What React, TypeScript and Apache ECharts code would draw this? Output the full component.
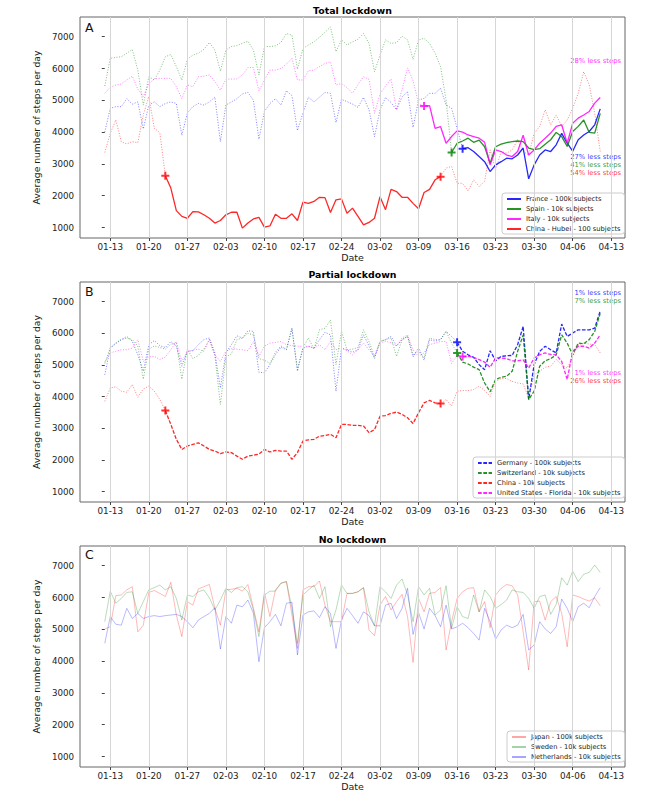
import React, { useEffect, useRef } from "react";
import * as echarts from "echarts";

// ---- axis ticks ----
const tickLabels = ["01-13", "01-20", "01-27", "02-03", "02-10", "02-17", "02-24", "03-02", "03-09", "03-16", "03-23", "03-30", "04-06", "04-13"];
const tickIdx = tickLabels.map((_, i) => 1 + 7 * i); // day index (0 = 01-12)
const yTicks = [1000, 2000, 3000, 4000, 5000, 6000, 7000];

// ---- Panel A: Total lockdown (daily, 01-12 .. 04-11) ----
const franceA = [4000, 4750, 4800, 4800, 5050, 4880, 4950, 4100, 4850, 4950, 4800, 4900, 4950, 4900, 3900, 4600, 4800, 4900, 4850, 4950, 5100, 3700, 4850, 4950, 5050, 5200, 5250, 5000, 3780, 4650, 4900, 5050, 4850, 5300, 5150, 4050, 4600, 5100, 4950, 5100, 5250, 5220, 4300, 5030, 4960, 4880, 4780, 5090, 4700, 3860, 4700, 5090, 4930, 4700, 5110, 5270, 4150, 5010, 5060, 5220, 5220, 5380, 4850, 4750, 4120, 3480, 3510, 3390, 3230, 3070, 2760, 2970, 3070, 3180, 3160, 3280, 3500, 2530, 2970, 3280, 3440, 3390, 3600, 3960, 3650, 3400, 3760, 3910, 4020, 4230, 4730];
const spainA = [5450, 6320, 6350, 6370, 6480, 6600, 5950, 4850, 5740, 5640, 5950, 6370, 6440, 6060, 5640, 6290, 6420, 6480, 6600, 6820, 6580, 5920, 6580, 6690, 6720, 6790, 6860, 6580, 5800, 6690, 6690, 6710, 6820, 7100, 7050, 5980, 6630, 6740, 6840, 6980, 7140, 7310, 6530, 6900, 6740, 6840, 6920, 7100, 6790, 5900, 6420, 6900, 6790, 6810, 7020, 6900, 6290, 6900, 6950, 6790, 6480, 6060, 5000, 3360, 3650, 3720, 3810, 3680, 3750, 3540, 3020, 3540, 3620, 3670, 3700, 3720, 3700, 3500, 3450, 3480, 3620, 3760, 3990, 3860, 3550, 4020, 4180, 4380, 3990, 3970, 4590];
const italyA = [5220, 5410, 5480, 5510, 5640, 5760, 5350, 5120, 5530, 5670, 5690, 5690, 5690, 5430, 5060, 5480, 5430, 5740, 5760, 5800, 5590, 5320, 5660, 5670, 5670, 5800, 6030, 6030, 5300, 5640, 5950, 5950, 6000, 6140, 6320, 5640, 5640, 5930, 5950, 6060, 6160, 6210, 5480, 5530, 5400, 5220, 5500, 5740, 5660, 4590, 5200, 5450, 5670, 4700, 5340, 6020, 5620, 4900, 4820, 4830, 4120, 4170, 3650, 3860, 4040, 4000, 3910, 3860, 3810, 3680, 2970, 3440, 3390, 3280, 3230, 3390, 3900, 3280, 3440, 3650, 3810, 3970, 4180, 4230, 3650, 4280, 4440, 4540, 4650, 4910, 5090];
const hubeiA = [3360, 3960, 4380, 3700, 3630, 3700, 3670, 4540, 5120, 4120, 3980, 2630, 2240, 1530, 1350, 1290, 1500, 1490, 1400, 1290, 1140, 1220, 1400, 1480, 1480, 980, 1140, 1270, 1320, 1010, 1050, 1420, 1290, 1290, 1430, 1220, 1800, 1760, 1820, 1950, 1940, 1470, 1870, 1900, 1450, 1610, 1350, 1080, 1160, 1290, 1970, 1560, 2200, 2130, 1950, 1950, 1760, 1590, 2100, 2200, 2500, 2600, 2870, 2920, 2390, 2390, 2150, 2500, 2290, 2450, 3440, 2810, 3390, 3340, 3440, 3760, 3390, 3280, 3970, 4180, 4700, 4230, 4540, 4180, 4380, 4750, 5220, 5900, 5490, 4590, 3390];

// ---- Panel B: Partial lockdown ----
const germanyB = [4690, 5530, 5670, 5800, 5900, 5750, 5320, 4800, 5640, 5770, 5610, 5550, 5740, 5590, 4960, 5430, 5450, 5640, 5800, 5850, 5380, 4270, 5380, 5640, 5920, 5850, 6080, 6060, 4770, 4750, 5010, 5320, 5560, 5480, 6160, 4850, 5530, 5590, 5530, 5800, 6030, 5950, 4170, 5530, 5480, 5400, 5480, 5950, 5600, 5200, 5740, 5800, 5900, 5600, 5800, 5900, 5250, 5550, 5150, 5800, 5750, 5800, 6060, 5900, 5720, 5430, 5320, 5240, 5010, 4850, 5450, 5130, 5270, 5290, 5300, 5640, 6220, 3910, 5010, 5430, 5590, 5480, 5380, 6290, 5900, 6010, 6110, 6110, 6110, 6160, 6710];
const switzerlandB = [5050, 5550, 5700, 5800, 5850, 5800, 5600, 4550, 5500, 5600, 5550, 5500, 5650, 5700, 4550, 5500, 5200, 5300, 5500, 5800, 5300, 3750, 5250, 5350, 5800, 5850, 6000, 5950, 5200, 5150, 5050, 5400, 5600, 5500, 6150, 4800, 5550, 5850, 5500, 6110, 6160, 6420, 5010, 6060, 5480, 5500, 5550, 6110, 5740, 5270, 5740, 5800, 5850, 5270, 5800, 5900, 5320, 5430, 5220, 5850, 5800, 5800, 6060, 5690, 5380, 5090, 5030, 4930, 4850, 4430, 4150, 4540, 4610, 4640, 4800, 5430, 5950, 3910, 4170, 4960, 5130, 5200, 5320, 5950, 5690, 5320, 5690, 5670, 5800, 6060, 6630];
const floridaB = [5090, 5380, 5430, 5480, 5480, 5530, 5800, 5110, 5250, 5270, 5170, 5250, 5480, 5740, 5110, 5430, 5460, 5500, 5430, 5800, 5320, 5110, 5430, 5510, 5500, 5480, 5450, 5740, 5270, 5590, 5690, 5710, 5740, 5640, 5610, 5590, 5590, 5590, 5530, 5640, 5480, 5740, 5480, 5530, 5450, 5320, 5480, 5690, 5480, 5270, 5690, 5750, 5700, 5600, 5850, 5950, 5480, 5270, 5380, 5640, 5690, 5740, 5740, 5050, 5300, 5270, 5270, 5240, 5170, 5090, 4930, 5220, 5220, 5200, 5130, 5130, 5160, 4900, 5220, 5320, 5380, 5330, 5320, 5110, 4540, 5430, 5590, 5590, 5530, 5690, 5950];
const chinaB = [3850, 4270, 4310, 4170, 4140, 4380, 3980, 4240, 4330, 4170, 3910, 3560, 3120, 2650, 2330, 2440, 2490, 2540, 2440, 2330, 2280, 2200, 2250, 2230, 2120, 2020, 2120, 2150, 2180, 2330, 2250, 2300, 2280, 2280, 2020, 2230, 2600, 2630, 2650, 2750, 2770, 2810, 2700, 3120, 3120, 3090, 3090, 3070, 2860, 2960, 3380, 3400, 3470, 3510, 3440, 3330, 3150, 3490, 3800, 3880, 3800, 3780, 3910, 3700, 4170, 4190, 4190, 4220, 4330, 4190, 4010, 4480, 4570, 4570, 4480, 4430, 4400, 3960, 4690, 4800, 4930, 4960, 5170, 5010, 4900, 5270, 5640, 5690, 5660, 5640, 5380];

// ---- Panel C: No lockdown ----
const japanC = [5010, 5080, 6060, 6080, 6240, 6340, 4920, 5130, 6160, 6220, 6130, 6030, 6480, 5450, 4770, 5870, 5760, 6270, 6340, 6410, 5660, 5130, 6240, 6260, 6290, 6200, 6410, 5660, 4920, 6160, 5400, 6240, 6450, 6500, 5450, 4400, 6240, 6340, 6340, 6520, 5760, 5240, 5240, 5240, 6130, 6130, 6180, 6310, 4980, 4800, 5760, 6030, 5610, 5870, 6100, 5400, 3960, 5970, 5550, 6130, 6160, 6310, 4350, 5240, 5970, 6180, 6290, 6310, 5550, 5870, 5050, 6080, 6290, 6410, 6370, 6080, 4920, 3720, 5870, 5890, 5290, 5870, 6030, 5500, 4450, 6080, 6030, 5950, 5890, 5990, 5740];
const swedenC = [5240, 6200, 5820, 5970, 6160, 6180, 5500, 5870, 6240, 6310, 6390, 6240, 6340, 5970, 5290, 6080, 6030, 6180, 6240, 5990, 5610, 5920, 6290, 6160, 6310, 6340, 6180, 5610, 4770, 6080, 6200, 6200, 6450, 6500, 5660, 4560, 6080, 6240, 6390, 5970, 6340, 5080, 5610, 6390, 6130, 6130, 6180, 6310, 5550, 5110, 6340, 6180, 5970, 6390, 6580, 6080, 5240, 6340, 6080, 6290, 5450, 5610, 6370, 5030, 5710, 5400, 5340, 6080, 5550, 6240, 6030, 5660, 5780, 5920, 6240, 6180, 6160, 5970, 5660, 6030, 6080, 5470, 5780, 6620, 6390, 6830, 6500, 6730, 6790, 7020, 6790];
const netherlandsC = [4560, 5400, 5160, 5130, 5660, 5340, 5500, 5340, 5400, 5430, 5400, 5430, 5450, 5470, 5400, 5240, 5050, 5290, 5400, 5500, 5680, 4380, 5400, 5190, 5760, 5710, 5920, 5500, 3980, 5050, 5240, 5470, 5110, 5820, 5850, 4190, 5450, 5550, 5580, 5370, 5710, 5500, 4400, 5290, 5660, 5430, 5190, 5550, 5430, 5110, 5110, 5760, 5820, 5340, 5660, 6290, 4840, 5530, 5010, 5660, 5430, 5080, 5760, 5010, 5080, 5190, 5050, 4870, 4660, 5660, 5240, 4690, 4980, 5130, 5050, 5130, 5470, 4350, 4510, 5240, 5010, 4870, 5080, 5950, 5660, 5240, 5710, 5820, 5680, 6030, 6310];

const LAST = 90;
const FONT = '"DejaVu Sans", Verdana, sans-serif';
const COL = { blue: "#0000ff", green: "#008000", magenta: "#ff00ff", red: "#ff0000" };
const DOT = [1, 1.65];
const DASH = [3.7, 1.6];
const PLUS = "path://M3,0H5V3H8V5H5V8H3V5H0V3H3Z";

function pts(arr: number[], from: number, to: number) {
  const out: number[][] = [];
  for (let i = from; i <= to; i++) out.push([i, arr[i]]);
  return out;
}

function line(g: number, name: string, arr: number[], from: number, to: number, color: string, kind: string) {
  const width = kind === "dot" ? 1 : kind === "faint" ? 0.8 : 1.3;
  const type = kind === "dot" ? DOT : kind === "dash" ? DASH : "solid";
  const opacity = kind === "dot" ? 0.5 : kind === "faint" ? 0.35 : 0.85;
  return {
    type: "line",
    name,
    xAxisIndex: g,
    yAxisIndex: g,
    data: pts(arr, from, to),
    symbol: "none",
    showSymbol: false,
    silent: true,
    z: kind === "dot" ? 2 : 3,
    lineStyle: { color, width, type, opacity },
    itemStyle: { color },
    emphasis: { disabled: true },
  };
}

function plus(g: number, marks: { arr: number[]; i: number; color: string }[]) {
  return {
    type: "scatter",
    xAxisIndex: g,
    yAxisIndex: g,
    symbol: PLUS,
    symbolSize: 8,
    silent: true,
    z: 6,
    data: marks.map((m) => ({ value: [m.i, m.arr[m.i]], itemStyle: { color: m.color } })),
  };
}

function gridLines(g: number) {
  return {
    type: "line",
    xAxisIndex: g,
    yAxisIndex: g,
    data: [],
    silent: true,
    z: 1,
    markLine: {
      silent: true,
      symbol: ["none", "none"],
      label: { show: false },
      emphasis: { disabled: true },
      lineStyle: { color: "#d6d6d6", width: 1, type: "solid" },
      data: tickIdx.map((v) => ({ xAxis: v })),
    },
  };
}

const namesA = ["France - 100k subjects", "Spain - 10k subjects", "Italy - 10k subjects", "China - Hubei - 100 subjects"];
const namesB = ["Germany - 100k subjects", "Switzerland - 10k subjects", "China - 10k subjects", "United States - Florida - 10k subjects"];
const namesC = ["Japan - 100k subjects", "Sweden - 10k subjects", "Netherlands - 10k subjects"];

const gridTops = [17, 282, 546];
const gridHeights = [221, 220, 221];

export default function App() {
  const ref = useRef<HTMLDivElement>(null);

  useEffect(() => {
    if (!ref.current) return;
    const chart = echarts.init(ref.current, null, { renderer: "svg" });

    const xAxis = [0, 1, 2].map((g) => ({
      type: "value",
      gridIndex: g,
      min: -4.5,
      max: 94.5,
      axisLine: { show: false },
      splitLine: { show: false },
      axisTick: { show: true, length: 3, customValues: tickIdx, lineStyle: { color: "#444" } },
      axisLabel: {
        customValues: tickIdx,
        formatter: (v: number) => tickLabels[Math.round((v - 1) / 7)] ?? "",
        fontSize: 8.8,
        color: "#222",
        fontFamily: FONT,
        margin: 4,
      },
      name: "Date",
      nameLocation: "middle",
      nameGap: 14.5,
      nameTextStyle: { fontSize: 9.5, color: "#222", fontFamily: FONT },
    }));

    const yAxis = [0, 1, 2].map((g) => ({
      type: "value",
      gridIndex: g,
      min: 670,
      max: 7620,
      axisLine: { show: false },
      splitLine: { show: false },
      axisTick: { show: true, length: 3, customValues: yTicks, lineStyle: { color: "#444" } },
      axisLabel: {
        customValues: yTicks,
        formatter: (v: number) => String(v),
        fontSize: 8.7,
        color: "#222",
        fontFamily: FONT,
        margin: 6,
      },
      name: "Average number of steps per day",
      nameLocation: "middle",
      nameGap: 27,
      nameRotate: 90,
      nameTextStyle: { fontSize: 9.2, color: "#222", fontFamily: FONT },
    }));

    const grid = [0, 1, 2].map((g) => ({
      left: 80,
      top: gridTops[g],
      width: 545,
      height: gridHeights[g],
      show: true,
      borderColor: "#666",
      borderWidth: 1,
      backgroundColor: "transparent",
    }));

    const series: any[] = [
      gridLines(0),
      gridLines(1),
      gridLines(2),
      // Panel A
      line(0, "France pre", franceA, 0, 65, COL.blue, "dot"),
      line(0, "Spain pre", spainA, 0, 63, COL.green, "dot"),
      line(0, "Italy pre", italyA, 0, 58, COL.magenta, "dot"),
      line(0, "Hubei pre", hubeiA, 0, 11, COL.red, "dot"),
      line(0, "Hubei post", hubeiA, 61, LAST, COL.red, "dot"),
      line(0, namesA[0], franceA, 65, LAST, COL.blue, "solid"),
      line(0, namesA[1], spainA, 63, LAST, COL.green, "solid"),
      line(0, namesA[2], italyA, 58, LAST, COL.magenta, "solid"),
      line(0, namesA[3], hubeiA, 11, 61, COL.red, "solid"),
      plus(0, [
        { arr: hubeiA, i: 11, color: COL.red },
        { arr: italyA, i: 58, color: COL.magenta },
        { arr: hubeiA, i: 61, color: COL.red },
        { arr: spainA, i: 63, color: COL.green },
        { arr: franceA, i: 65, color: COL.blue },
      ]),
      // Panel B
      line(1, "Germany pre", germanyB, 0, 64, COL.blue, "dot"),
      line(1, "Switzerland pre", switzerlandB, 0, 64, COL.green, "dot"),
      line(1, "Florida pre", floridaB, 0, 65, COL.magenta, "dot"),
      line(1, "China pre", chinaB, 0, 11, COL.red, "dot"),
      line(1, "China post", chinaB, 61, LAST, COL.red, "dot"),
      line(1, namesB[0], germanyB, 64, LAST, COL.blue, "dash"),
      line(1, namesB[1], switzerlandB, 64, LAST, COL.green, "dash"),
      line(1, namesB[2], chinaB, 11, 61, COL.red, "dash"),
      line(1, namesB[3], floridaB, 65, LAST, COL.magenta, "dash"),
      plus(1, [
        { arr: chinaB, i: 11, color: COL.red },
        { arr: chinaB, i: 61, color: COL.red },
        { arr: germanyB, i: 64, color: COL.blue },
        { arr: switzerlandB, i: 64, color: COL.green },
        { arr: floridaB, i: 65, color: COL.magenta },
      ]),
      // Panel C
      line(2, namesC[0], japanC, 0, LAST, COL.red, "faint"),
      line(2, namesC[1], swedenC, 0, LAST, COL.green, "faint"),
      line(2, namesC[2], netherlandsC, 0, LAST, COL.blue, "faint"),
    ];

    const legendCommon = {
      orient: "vertical",
      itemWidth: 14,
      itemHeight: 8,
      itemGap: 2,
      padding: [2, 4, 1, 4],
      selectedMode: false,
      backgroundColor: "rgba(255,255,255,0.8)",
      borderColor: "#cccccc",
      borderWidth: 1,
      borderRadius: 3,
      itemStyle: { opacity: 0, borderWidth: 0 },
      textStyle: { fontSize: 6.7, color: "#222", fontFamily: FONT, lineHeight: 8 },
    };

    const legend = [
      { ...legendCommon, data: namesA, left: 502, top: 193 },
      { ...legendCommon, data: namesB, left: 473, top: 457 },
      { ...legendCommon, data: namesC, left: 507, top: 731 },
    ];

    const txt = (text: string, x: number, y: number, color: string, size: number, align: string, bold = false, opacity = 1) => ({
      type: "text",
      x,
      y,
      silent: true,
      style: {
        text,
        fill: color,
        opacity,
        fontSize: size,
        fontWeight: bold ? "bold" : "normal",
        fontFamily: FONT,
        textAlign: align,
        textVerticalAlign: "middle",
      },
    });

    const graphic = [
      txt("Total lockdown", 352.5, 10.7, "#000", 9.4, "center", true),
      txt("Partial lockdown", 352.5, 274.7, "#000", 9.4, "center", true),
      txt("No lockdown", 352.5, 539, "#000", 9.4, "center", true),
      txt("A", 85, 27, "#111", 12.5, "left"),
      txt("B", 85, 291.3, "#111", 12.5, "left"),
      txt("C", 85, 554.7, "#111", 12.5, "left"),
      txt("28% less steps", 621, 61, COL.magenta, 6.8, "right", false, 0.85),
      txt("27% less steps", 621, 157, COL.blue, 6.8, "right", false, 0.8),
      txt("41% less steps", 621, 165, COL.green, 6.8, "right", false, 0.8),
      txt("54% less steps", 621, 173, COL.red, 6.8, "right", false, 0.8),
      txt("1% less steps", 621, 293.3, COL.blue, 6.8, "right", false, 0.8),
      txt("7% less steps", 621, 301.3, COL.green, 6.8, "right", false, 0.8),
      txt("1% less steps", 621, 373, COL.magenta, 6.8, "right", false, 0.8),
      txt("26% less steps", 621, 381, COL.red, 6.8, "right", false, 0.8),
    ];

    chart.setOption({
      animation: false,
      backgroundColor: "#ffffff",
      textStyle: { fontFamily: FONT },
      grid,
      xAxis,
      yAxis,
      legend,
      series,
      graphic,
    } as any);

    return () => chart.dispose();
  }, []);

  return (
    <div
      ref={ref}
      style={{ position: "fixed", left: 0, top: 0, width: 666, height: 799, background: "#fff" }}
    />
  );
}
